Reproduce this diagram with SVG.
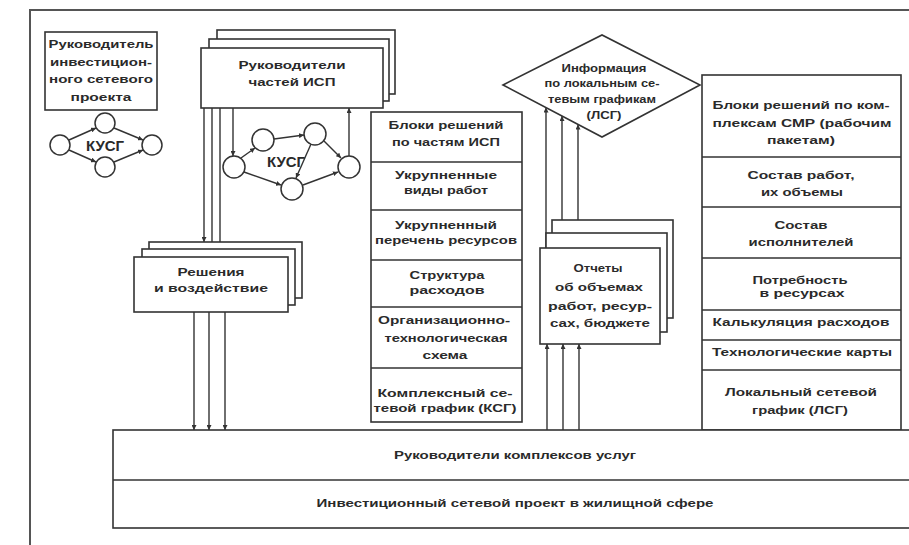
<svg xmlns="http://www.w3.org/2000/svg" width="909" height="545" viewBox="0 0 909 545">
<style>
.b{fill:#fff;stroke:#333;stroke-width:1.6}
.c{fill:#fff;stroke:#333;stroke-width:1.5}
.d{stroke:#333;stroke-width:1.6;fill:none}
.l{stroke:#333;stroke-width:1.4;fill:none}
.la{stroke:#333;stroke-width:1.4;fill:none;marker-end:url(#ah)}
.t{font-family:"Liberation Sans",Arial,sans-serif;font-weight:bold;font-size:10.5px;fill:#2a2a2a;text-anchor:middle}
.k{font-family:"Liberation Sans",Arial,sans-serif;font-weight:bold;font-size:15px;fill:#2a2a2a;text-anchor:middle}
.frame{stroke:#555;stroke-width:2;fill:none}
</style>
<defs>
<marker id="ah" viewBox="0 0 6 6" refX="6" refY="3" markerWidth="5" markerHeight="5" markerUnits="userSpaceOnUse" orient="auto">
<path d="M0,0 L6,3 L0,6 z" fill="#333"/>
</marker>
</defs>
<rect width="909" height="545" fill="#fff"/>
<path class="frame" d="M30,545 V10 H909"/>

<g id="connectors">
<!-- Руководители частей ИСП -> Решения -->
<line class="la" x1="204" y1="108" x2="204" y2="242"/>
<line class="la" x1="212" y1="108" x2="212" y2="249"/>
<line class="la" x1="220" y1="108" x2="220" y2="257"/>
<!-- Решения -> bottom -->
<line class="la" x1="194" y1="312" x2="194" y2="430"/>
<line class="la" x1="209" y1="312" x2="209" y2="430"/>
<line class="la" x1="225" y1="312" x2="225" y2="430"/>
<!-- Руководители <-> КУСГ -->
<line class="la" x1="233" y1="108" x2="233" y2="156"/>
<line class="la" x1="349" y1="156" x2="349" y2="108"/>
<!-- bottom -> Отчеты -->
<line class="la" x1="547" y1="430" x2="547" y2="344"/>
<line class="la" x1="563" y1="430" x2="563" y2="344"/>
<line class="la" x1="579" y1="430" x2="579" y2="344"/>
<!-- Отчеты -> Информация -->
<line class="la" x1="546" y1="248" x2="546" y2="107.5"/>
<line class="la" x1="562" y1="233" x2="562" y2="116"/>
<line class="la" x1="578" y1="220" x2="578" y2="124.5"/>
<!-- left КУСГ edges -->
<line class="la" x1="69" y1="140" x2="96" y2="128"/>
<line class="la" x1="114" y1="128" x2="143" y2="140"/>
<line class="la" x1="69" y1="150" x2="96" y2="162"/>
<line class="la" x1="114" y1="162" x2="143" y2="150"/>
<!-- middle КУСГ edges -->
<line class="la" x1="241" y1="158" x2="255" y2="148"/>
<line class="la" x1="274" y1="139" x2="304" y2="135"/>
<line class="la" x1="324" y1="141" x2="341" y2="158"/>
<line class="la" x1="244" y1="172" x2="281" y2="185"/>
<line class="la" x1="303" y1="185" x2="338" y2="172"/>
<line class="la" x1="311" y1="144" x2="296" y2="178"/>
</g>

<g id="rukovoditel-proekta">
<rect class="b" x="45" y="32" width="112" height="78"/>
<text class="t" x="101" y="48" textLength="105" lengthAdjust="spacingAndGlyphs">Руководитель</text>
<text class="t" x="101" y="65.5" textLength="102" lengthAdjust="spacingAndGlyphs">инвестицион-</text>
<text class="t" x="101" y="83" textLength="104" lengthAdjust="spacingAndGlyphs">ного сетевого</text>
<text class="t" x="101" y="100.5" textLength="61" lengthAdjust="spacingAndGlyphs">проекта</text>
</g>

<g id="kusg-left">
<circle class="c" cx="105" cy="123" r="10"/>
<circle class="c" cx="60" cy="145" r="10"/>
<circle class="c" cx="152" cy="145" r="10"/>
<circle class="c" cx="105" cy="167" r="10"/>
<text class="k" x="105" y="151">КУСГ</text>
</g>

<g id="rukovoditeli-chastey">
<rect class="b" x="217" y="30" width="178" height="64"/>
<rect class="b" x="209" y="39" width="180" height="62"/>
<rect class="b" x="201" y="48" width="182" height="60"/>
<text class="t" x="292" y="68.5" textLength="107" lengthAdjust="spacingAndGlyphs">Руководители</text>
<text class="t" x="292" y="85.5" textLength="87" lengthAdjust="spacingAndGlyphs">частей ИСП</text>
</g>

<g id="kusg-middle">
<circle class="c" cx="234" cy="167" r="11"/>
<circle class="c" cx="263" cy="140" r="11"/>
<circle class="c" cx="315" cy="134" r="11"/>
<circle class="c" cx="349" cy="167" r="11"/>
<circle class="c" cx="292" cy="189" r="11"/>
<text class="k" x="286" y="167" textLength="38" lengthAdjust="spacingAndGlyphs">КУСГ</text>
</g>

<g id="resheniya">
<rect class="b" x="149" y="242" width="153" height="56"/>
<rect class="b" x="142" y="249" width="153" height="56"/>
<rect class="b" x="134" y="257" width="154" height="55"/>
<text class="t" x="211" y="275.5" textLength="67" lengthAdjust="spacingAndGlyphs">Решения</text>
<text class="t" x="211" y="291.5" textLength="114" lengthAdjust="spacingAndGlyphs">и воздействие</text>
</g>

<g id="middle-column">
<rect class="b" x="371" y="112" width="151" height="310"/>
<line class="d" x1="371" y1="162" x2="522" y2="162"/>
<line class="d" x1="371" y1="210" x2="522" y2="210"/>
<line class="d" x1="371" y1="260" x2="522" y2="260"/>
<line class="d" x1="371" y1="307" x2="522" y2="307"/>
<line class="d" x1="371" y1="368" x2="522" y2="368"/>
<text class="t" x="446" y="128.5" textLength="115" lengthAdjust="spacingAndGlyphs">Блоки решений</text>
<text class="t" x="446" y="145.5" textLength="108" lengthAdjust="spacingAndGlyphs">по частям ИСП</text>
<text class="t" x="446" y="178.5" textLength="102" lengthAdjust="spacingAndGlyphs">Укрупненные</text>
<text class="t" x="446" y="193.5" textLength="84" lengthAdjust="spacingAndGlyphs">виды работ</text>
<text class="t" x="446" y="228.5" textLength="102" lengthAdjust="spacingAndGlyphs">Укрупненный</text>
<text class="t" x="446" y="243.5" textLength="142" lengthAdjust="spacingAndGlyphs">перечень ресурсов</text>
<text class="t" x="447" y="278.5" textLength="75" lengthAdjust="spacingAndGlyphs">Структура</text>
<text class="t" x="447" y="293.5" textLength="75" lengthAdjust="spacingAndGlyphs">расходов</text>
<text class="t" x="444" y="323.5" textLength="132" lengthAdjust="spacingAndGlyphs">Организационно-</text>
<text class="t" x="446" y="341.5" textLength="123" lengthAdjust="spacingAndGlyphs">технологическая</text>
<text class="t" x="445" y="358.5" textLength="45" lengthAdjust="spacingAndGlyphs">схема</text>
<text class="t" x="445" y="396.5" textLength="135" lengthAdjust="spacingAndGlyphs">Комплексный се-</text>
<text class="t" x="445" y="411.5" textLength="143" lengthAdjust="spacingAndGlyphs">тевой график (КСГ)</text>
</g>

<g id="informaciya">
<polygon class="b" points="503,85 602,35 700,85 602,137"/>
<text class="t" x="604" y="71.5" textLength="85" lengthAdjust="spacingAndGlyphs">Информация</text>
<text class="t" x="602" y="86.5" textLength="115" lengthAdjust="spacingAndGlyphs">по локальным се-</text>
<text class="t" x="602" y="103" textLength="108" lengthAdjust="spacingAndGlyphs">тевым графикам</text>
<text class="t" x="604" y="118.5" textLength="35" lengthAdjust="spacingAndGlyphs">(ЛСГ)</text>
</g>

<g id="otchety">
<rect class="b" x="552" y="220" width="121" height="98"/>
<rect class="b" x="546" y="233" width="121" height="99"/>
<rect class="b" x="540" y="248" width="120" height="96"/>
<text class="t" x="598" y="271.5" textLength="49" lengthAdjust="spacingAndGlyphs">Отчеты</text>
<text class="t" x="599" y="291" textLength="88" lengthAdjust="spacingAndGlyphs">об объемах</text>
<text class="t" x="600" y="310" textLength="104" lengthAdjust="spacingAndGlyphs">работ, ресур-</text>
<text class="t" x="600" y="326.5" textLength="100" lengthAdjust="spacingAndGlyphs">сах, бюджете</text>
</g>

<g id="right-column">
<rect class="b" x="702" y="75" width="199" height="355"/>
<line class="d" x1="702" y1="157" x2="901" y2="157"/>
<line class="d" x1="702" y1="207" x2="901" y2="207"/>
<line class="d" x1="702" y1="258" x2="901" y2="258"/>
<line class="d" x1="702" y1="310" x2="901" y2="310"/>
<line class="d" x1="702" y1="340" x2="901" y2="340"/>
<line class="d" x1="702" y1="370" x2="901" y2="370"/>
<text class="t" x="801" y="108.5" textLength="177" lengthAdjust="spacingAndGlyphs">Блоки решений по ком-</text>
<text class="t" x="802" y="126.5" textLength="179" lengthAdjust="spacingAndGlyphs">плексам СМР (рабочим</text>
<text class="t" x="801" y="143.5" textLength="68" lengthAdjust="spacingAndGlyphs">пакетам)</text>
<text class="t" x="801" y="178.5" textLength="107" lengthAdjust="spacingAndGlyphs">Состав работ,</text>
<text class="t" x="802" y="195.5" textLength="82" lengthAdjust="spacingAndGlyphs">их объемы</text>
<text class="t" x="801" y="228.5" textLength="53" lengthAdjust="spacingAndGlyphs">Состав</text>
<text class="t" x="801" y="245.5" textLength="105" lengthAdjust="spacingAndGlyphs">исполнителей</text>
<text class="t" x="800" y="283.5" textLength="95" lengthAdjust="spacingAndGlyphs">Потребность</text>
<text class="t" x="802" y="296.5" textLength="85" lengthAdjust="spacingAndGlyphs">в ресурсах</text>
<text class="t" x="801" y="325.5" textLength="177" lengthAdjust="spacingAndGlyphs">Калькуляция расходов</text>
<text class="t" x="802" y="355.5" textLength="180" lengthAdjust="spacingAndGlyphs">Технологические карты</text>
<text class="t" x="801" y="395.5" textLength="152" lengthAdjust="spacingAndGlyphs">Локальный сетевой</text>
<text class="t" x="800" y="413.5" textLength="96" lengthAdjust="spacingAndGlyphs">график (ЛСГ)</text>
</g>

<g id="bottom-block">
<rect class="b" x="113" y="430" width="810" height="98" stroke-width="2"/>
<line class="d" x1="113" y1="480" x2="923" y2="480" stroke-width="2"/>
<text class="t" x="515" y="458.5" textLength="242" lengthAdjust="spacingAndGlyphs">Руководители комплексов услуг</text>
<text class="t" x="515" y="506.5" textLength="397" lengthAdjust="spacingAndGlyphs">Инвестиционный сетевой проект в жилищной сфере</text>
</g>
</svg>
